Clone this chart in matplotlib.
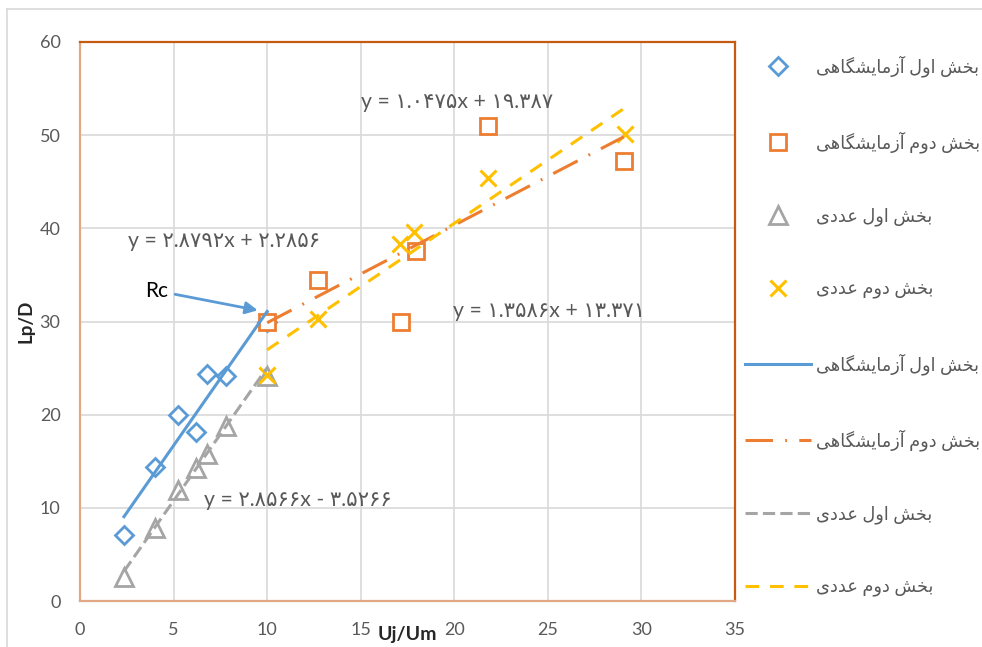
import matplotlib
matplotlib.use('Agg')
import matplotlib.pyplot as plt
from matplotlib.lines import Line2D
import numpy as np

plt.rcParams['font.family'] = ['Lato', 'DejaVu Sans']

# measured points (Uj/Um, Lp/D)
lab1_x = [2.35, 4.0, 5.23, 6.2, 6.8, 7.8, 10.0]
lab1_y = [7.1, 14.4, 20.0, 18.1, 24.4, 24.1, 30.0]
lab2_x = [10.0, 12.7, 17.15, 17.95, 21.8, 29.06]
lab2_y = [29.9, 34.5, 29.9, 37.6, 51.0, 47.2]
num1_x = [2.35, 4.0, 5.23, 6.2, 6.8, 7.8, 10.0]
num1_y = [2.6, 7.8, 11.9, 14.3, 15.8, 18.8, 24.2]
num2_x = [10.0, 12.7, 17.1, 17.85, 21.8, 29.1]
num2_y = [24.3, 30.3, 38.3, 39.6, 45.4, 50.1]

# linear fits (slope, intercept)
fit_lab1 = (2.8792, 2.2856)
fit_lab2 = (1.0475, 19.387)
fit_num1 = (2.8566, -3.5266)
fit_num2 = (1.3586, 13.371)

names = ['بخش اول آزمایشگاهی', 'بخش دوم آزمایشگاهی', 'بخش اول عددی', 'بخش دوم عددی']

# contextual forms: isolated, final, initial, medial
FORMS = {
    'ا': ('\uFE8D', '\uFE8E', None, None),
    'آ': ('\uFE81', '\uFE82', None, None),
    'ب': ('\uFE8F', '\uFE90', '\uFE91', '\uFE92'),
    'خ': ('\uFEA5', '\uFEA6', '\uFEA7', '\uFEA8'),
    'د': ('\uFEA9', '\uFEAA', None, None),
    'ز': ('\uFEAF', '\uFEB0', None, None),
    'ش': ('\uFEB5', '\uFEB6', '\uFEB7', '\uFEB8'),
    'ع': ('\uFEC9', '\uFECA', '\uFECB', '\uFECC'),
    'گ': ('\uFB92', '\uFB93', '\uFB94', '\uFB95'),
    'ل': ('\uFEDD', '\uFEDE', '\uFEDF', '\uFEE0'),
    'م': ('\uFEE1', '\uFEE2', '\uFEE3', '\uFEE4'),
    'ه': ('\uFEE9', '\uFEEA', '\uFEEB', '\uFEEC'),
    'و': ('\uFEED', '\uFEEE', None, None),
    'ی': ('\uFBFC', '\uFBFD', '\uFBFE', '\uFBFF'),
}


def shape_fa(text):
    out = []
    for i, ch in enumerate(text):
        if ch not in FORMS:
            out.append(ch)
            continue
        prev = text[i - 1] if i > 0 else ''
        nxt = text[i + 1] if i + 1 < len(text) else ''
        join_prev = prev in FORMS and FORMS[prev][2] is not None
        join_next = nxt in FORMS and FORMS[ch][2] is not None
        iso, fin, ini, med = FORMS[ch]
        if join_prev and join_next:
            out.append(med)
        elif join_prev:
            out.append(fin)
        elif join_next:
            out.append(ini)
        else:
            out.append(iso)
    return ''.join(reversed(out))


FA_DIGITS = str.maketrans('0123456789', '۰۱۲۳۴۵۶۷۸۹')


def eq_label(fit):
    a, b = fit
    sign = '+' if b >= 0 else '-'
    return f'y = {a:g}x {sign} {abs(b):g}'.translate(FA_DIGITS)


blue, orange, gray, yellow = '#5B9BD5', '#ED7D31', '#A5A5A5', '#FFC000'
txt = '#595959'

fig = plt.figure(figsize=(9.82, 6.47), dpi=100)
ax = fig.add_axes([80 / 982, 1 - 601 / 647, 655 / 982, 559 / 647])

# outer chart frame
fig.add_artist(Line2D([7 / 982, 7 / 982], [0, 1 - 9 / 647], transform=fig.transFigure, color='#D9D9D9', lw=1.2))
fig.add_artist(Line2D([7 / 982, 1], [1 - 9 / 647, 1 - 9 / 647], transform=fig.transFigure, color='#D9D9D9', lw=1.2))

mk = dict(linestyle='none', markerfacecolor='white', markeredgewidth=2)
h1, = ax.plot(lab1_x, lab1_y, marker='D', markersize=9.5, color=blue, zorder=3, **mk)
h2, = ax.plot(lab2_x, lab2_y, marker='s', markersize=12, color=orange, zorder=4, **mk)
h3, = ax.plot(num1_x, num1_y, marker='^', markersize=12.5, color=gray, zorder=3, **mk)
h4, = ax.plot(num2_x, num2_y, marker='x', markersize=11, color=yellow, linestyle='none',
              markeredgewidth=2.2, zorder=4)


def fit_line(xs, fit):
    xx = np.array([min(xs), max(xs)])
    return xx, fit[0] * xx + fit[1]


l1, = ax.plot(*fit_line(lab1_x, fit_lab1), color=blue, lw=2.2, zorder=5)
l2, = ax.plot(*fit_line(lab2_x, fit_lab2), color=orange, lw=2.2, zorder=5,
              dashes=(9, 4, 0.6, 4))
l3, = ax.plot(*fit_line(num1_x, fit_num1), color=gray, lw=2.2, zorder=5, dashes=(4, 1.7))
l4, = ax.plot(*fit_line(num2_x, fit_num2), color=yellow, lw=2.2, zorder=5, dashes=(4.5, 3.5))

# fit equations
eq_size = 15.3
ax.text(2.55, 38.6, eq_label(fit_lab1), color=txt, fontsize=eq_size, va='center')
ax.text(15.0, 53.6, eq_label(fit_lab2), color=txt, fontsize=eq_size, va='center')
ax.text(19.95, 31.1, eq_label(fit_num2), color=txt, fontsize=eq_size, va='center')
ax.text(6.65, 10.8, eq_label(fit_num1), color=txt, fontsize=eq_size, va='center')

ax.annotate('Rc', xy=(9.5, 31.2), xytext=(4.1, 33.3), ha='center', va='center',
            fontsize=15, color='black',
            arrowprops=dict(arrowstyle='-|>', color=blue, lw=2, mutation_scale=18,
                            shrinkA=3, shrinkB=0))

ax.set_xlim(0, 35)
ax.set_ylim(0, 60)
ax.set_xticks(np.arange(0, 36, 5))
ax.set_yticks(np.arange(0, 61, 10))
ax.grid(True, color='#D9D9D9', lw=1.2)
ax.set_axisbelow(True)
ax.tick_params(length=0, labelsize=13, labelcolor=txt)
ax.tick_params(axis='x', pad=15)
ax.tick_params(axis='y', pad=14)

for side in ['top', 'right']:
    ax.spines[side].set_color('#C55A11')
    ax.spines[side].set_linewidth(1.6)
for side in ['left', 'bottom']:
    ax.spines[side].set_color('#E0A883')
    ax.spines[side].set_linewidth(1.6)

ax.set_xlabel('Uj/Um', fontsize=14, fontweight='bold', color='#262626')
ax.xaxis.set_label_coords(0.5, -0.044)
ax.set_ylabel('Lp/D', fontsize=13.5, fontweight='bold', color='#262626')
ax.yaxis.set_label_coords(-0.070, 0.5)

handles = [h1, h2, h3, h4, l1, l2, l3, l4]
labels = [shape_fa(n) for n in names] * 2
leg = fig.legend(handles, labels, loc='upper left', bbox_to_anchor=(745 / 982, 1 - 55 / 647),
                 frameon=False, fontsize=12.8, handlelength=3.7, handletextpad=0.3,
                 labelspacing=3.07, borderpad=0, borderaxespad=0)
for t in leg.get_texts():
    t.set_color(txt)

fig.savefig('out.png', dpi=100)
